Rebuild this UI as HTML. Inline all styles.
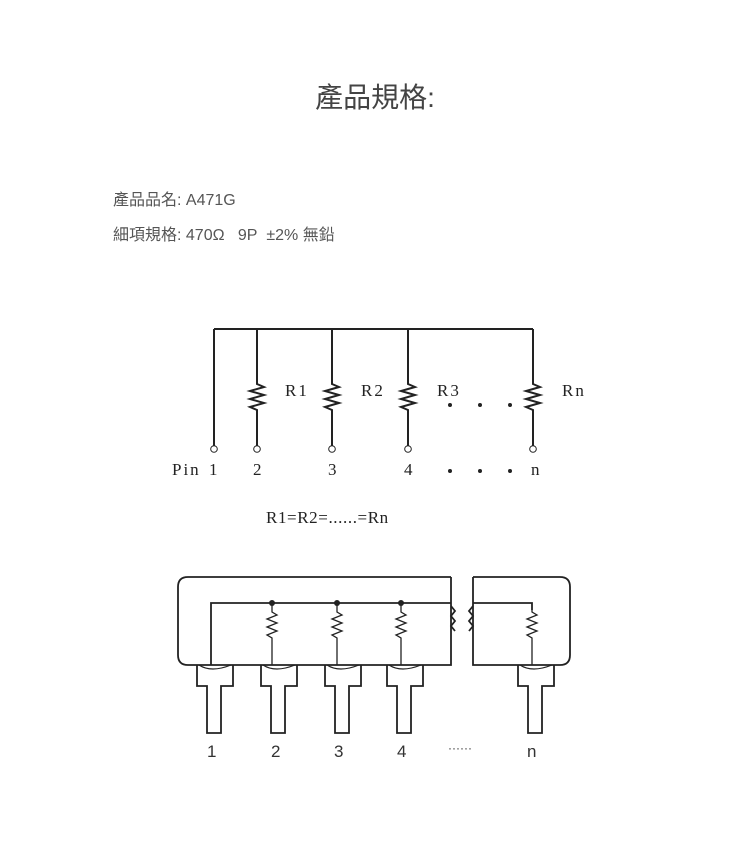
<!DOCTYPE html>
<html><head><meta charset="utf-8"><style>
body{margin:0;background:#fff;width:750px;height:860px;overflow:hidden;font-family:"Liberation Sans","Noto Sans CJK TC",sans-serif;}
.t{position:absolute;left:0;width:750px;text-align:center;top:76px;font-size:28px;color:#444;}
.l{position:absolute;left:113px;font-size:16px;color:#555;}
svg{position:absolute;left:0;top:0}
</style></head><body>
<div class="t">產品規格:</div>
<div class="l" style="top:186px">產品品名: A471G</div>
<div class="l" style="top:221px">細項規格: 470Ω&nbsp;&nbsp; 9P&nbsp; ±2% 無鉛</div>
<svg width="750" height="860" font-family="Liberation Serif,serif" font-size="17" fill="#222">
<g stroke="#222" stroke-width="2" fill="none">
<path d="M214 329H533M214 329V446"/>
<path d="M257 329V384l7 3-14 4 14 4-14 4 14 4-14 4 7 3V446"/>
<path d="M332 329V384l7 3-14 4 14 4-14 4 14 4-14 4 7 3V446"/>
<path d="M408 329V384l7 3-14 4 14 4-14 4 14 4-14 4 7 3V446"/>
<path d="M533 329V384l7 3-14 4 14 4-14 4 14 4-14 4 7 3V446"/>
<g stroke-width="1"><circle cx="214" cy="449" r="3.3"/><circle cx="257" cy="449" r="3.3"/><circle cx="332" cy="449" r="3.3"/><circle cx="408" cy="449" r="3.3"/><circle cx="533" cy="449" r="3.3"/></g>
</g>
<g fill="#222"><circle cx="450" cy="405" r="2"/><circle cx="480" cy="405" r="2"/><circle cx="510" cy="405" r="2"/><circle cx="450" cy="471" r="2"/><circle cx="480" cy="471" r="2"/><circle cx="510" cy="471" r="2"/></g>
<g letter-spacing="2"><text x="285" y="396">R1</text><text x="361" y="396">R2</text><text x="437" y="396">R3</text><text x="562" y="396">Rn</text>
<text x="172" y="475">Pin</text></g><text x="209" y="475">1</text><text x="253" y="475">2</text><text x="328" y="475">3</text><text x="404" y="475">4</text><text x="531" y="475">n</text>
<text x="266" y="523" letter-spacing="0.6">R1=R2=......=Rn</text>
<g stroke="#222" stroke-width="1.8" fill="none">
<path d="M451 577H188q-10 0-10 10V655q0 10 10 10H451V577"/>
<path d="M473 577H560q10 0 10 10V655q0 10-10 10H473V577"/>
<path d="M451 606l4 5-4 5 4 5-4 5 4 5M473 606l-4 5 4 5-4 5 4 5-4 5"/>
<path d="M211 665V603H451M473 603H532V610"/>
<g stroke-width="1.3">
<path d="M272 603V612l5 3-10 4 10 4-10 4 10 4-10 4 5 3V665"/>
<path d="M337 603V612l5 3-10 4 10 4-10 4 10 4-10 4 5 3V665"/>
<path d="M401 603V612l5 3-10 4 10 4-10 4 10 4-10 4 5 3V665"/>
<path d="M532 610V612l5 3-10 4 10 4-10 4 10 4-10 4 5 3V665"/>
</g>
<g id="p"><path d="M197 665V686H207V733H221V686H233V665"/><path d="M199 665q12 8 32 0" stroke-width="1.2"/></g>
<use href="#p" x="64"/><use href="#p" x="128"/><use href="#p" x="190"/><use href="#p" x="321"/>
</g>
<g fill="#222"><circle cx="272" cy="603" r="3"/><circle cx="337" cy="603" r="3"/><circle cx="401" cy="603" r="3"/></g>
<g font-family="Liberation Sans,sans-serif" font-size="17" fill="#333">
<text x="207" y="757">1</text><text x="271" y="757">2</text><text x="334" y="757">3</text><text x="397" y="757">4</text><text x="448" y="752" font-size="12">······</text><text x="527" y="757">n</text>
</g>
</svg>
</body></html>
